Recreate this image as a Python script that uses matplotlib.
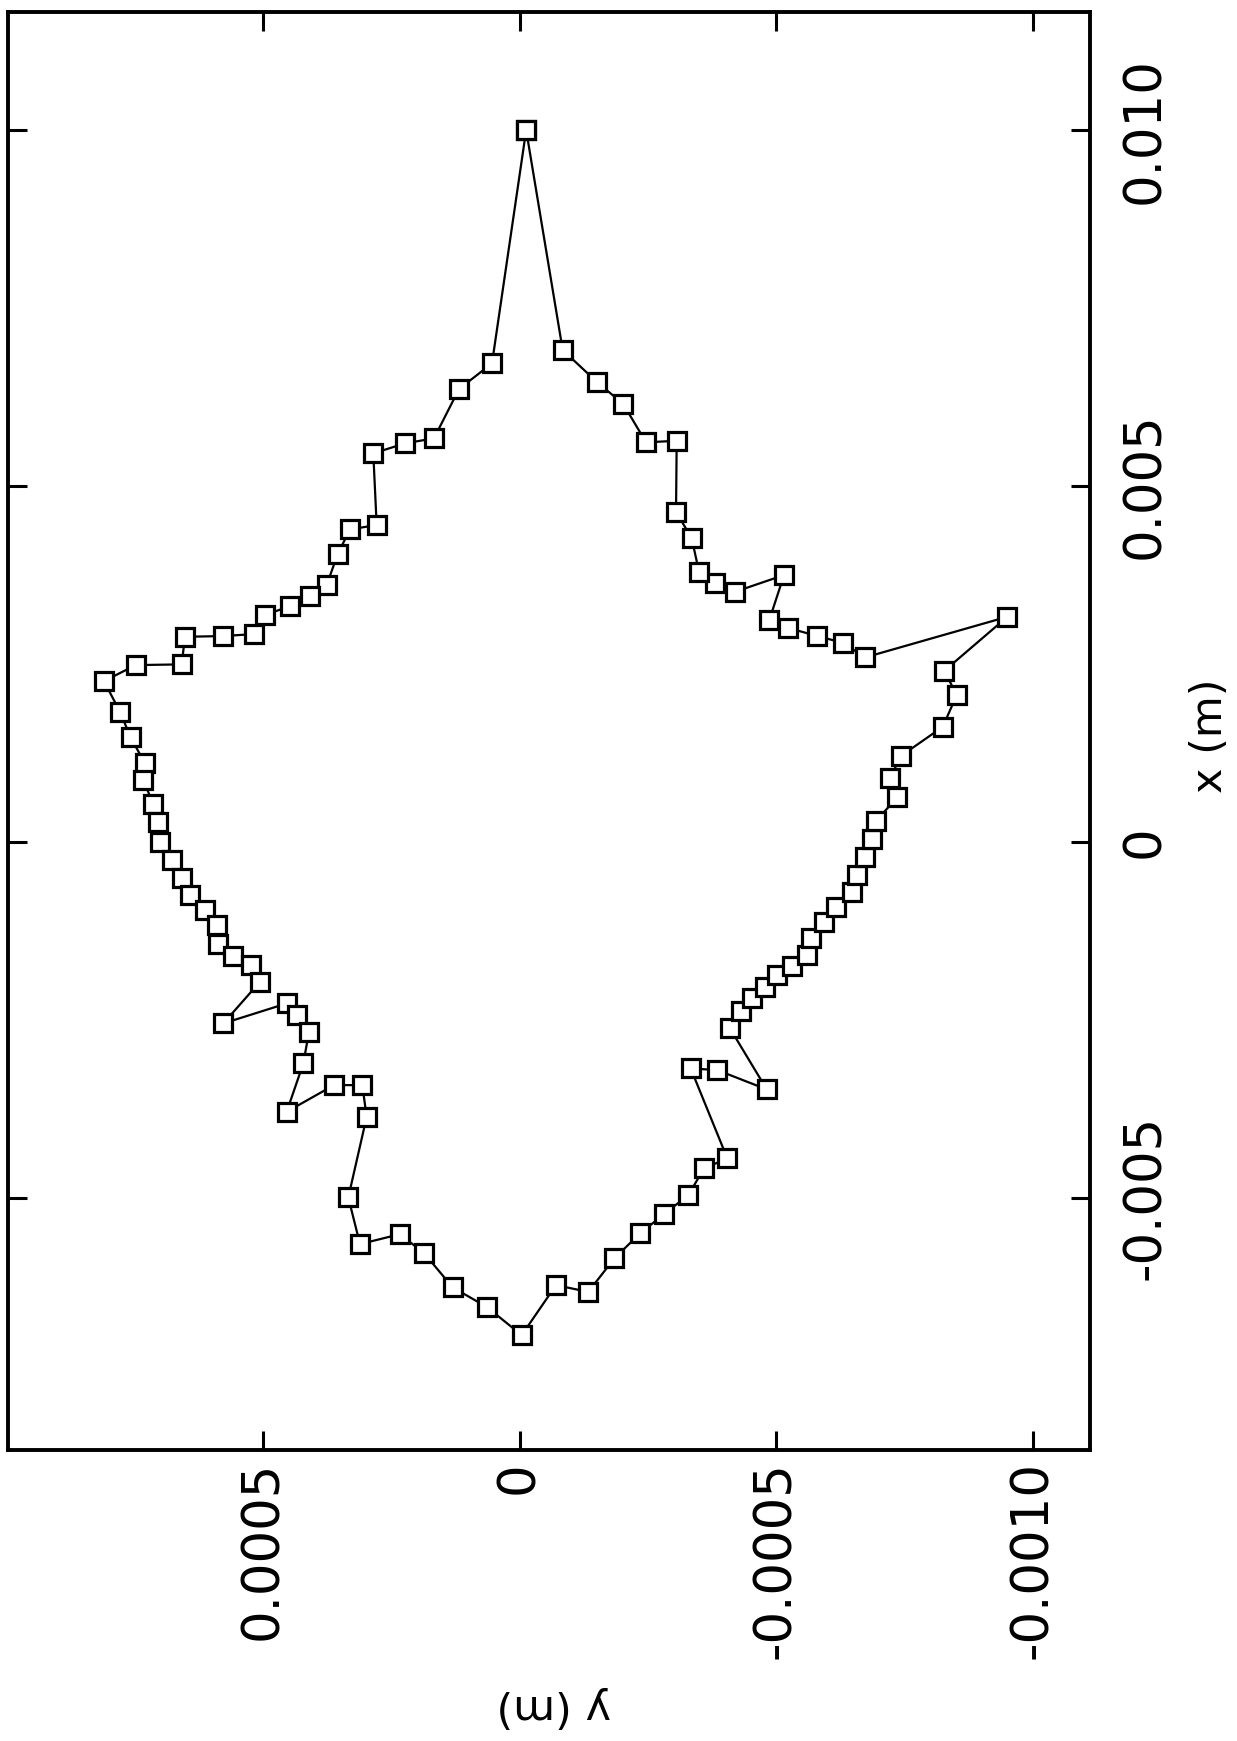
import matplotlib
matplotlib.use("Agg")
import matplotlib.pyplot as plt

plt.rcParams['font.family'] = ['DejaVu Sans']
plt.rcParams['axes.unicode_minus'] = False

# contour points (closed loop): x (m) and y (m)
x_m = [0.010000, 0.006723, 0.006362, 0.005669, 0.005599, 0.005458, 0.004451, 0.004390,
       0.004043, 0.003607, 0.003457, 0.003312, 0.003186, 0.002919, 0.002891, 0.002881,
       0.002493, 0.002483, 0.002258, 0.001827, 0.001467, 0.001102, 0.000867, 0.000530,
       0.000281, 0.000000, -0.000257, -0.000514, -0.000749, -0.000960, -0.001171, -0.001438,
       -0.001606, -0.001733, -0.001967, -0.002552, -0.002271, -0.002435, -0.002670, -0.003114,
       -0.003794, -0.003419, -0.003419, -0.003865, -0.004997, -0.005653, -0.005513, -0.005784,
       -0.006262, -0.006535, -0.006932, -0.006230, -0.006324, -0.005854, -0.005503, -0.005232,
       -0.004965, -0.004590, -0.004449, -0.003184, -0.003208, -0.003479, -0.002622, -0.002379,
       -0.002196, -0.002035, -0.001873, -0.001747, -0.001592, -0.001358, -0.001124, -0.000913,
       -0.000703, -0.000468, -0.000211, 0.000034, 0.000295, 0.000624, 0.000891, 0.001204,
       0.001616, 0.002062, 0.002403, 0.003162, 0.002591, 0.002797, 0.002891, 0.003007,
       0.003116, 0.003748, 0.003513, 0.003631, 0.003794, 0.004264, 0.004637, 0.005635,
       0.005613, 0.006151, 0.006464, 0.006910, 0.010000]

y_m = [-0.0000130, 0.0000536, 0.0001179, 0.0001667, 0.0002232, 0.0002850, 0.0002784, 0.0003304,
       0.0003544, 0.0003758, 0.0004084, 0.0004474, 0.0004961, 0.0005175, 0.0005774, 0.0006520,
       0.0006585, 0.0007481, 0.0008099, 0.0007788, 0.0007579, 0.0007300, 0.0007333, 0.0007138,
       0.0007041, 0.0007008, 0.0006780, 0.0006585, 0.0006423, 0.0006131, 0.0005903, 0.0005871,
       0.0005579, 0.0005240, 0.0005058, 0.0005774, 0.0004538, 0.0004343, 0.0004103, 0.0004214,
       0.0004538, 0.0003616, 0.0003064, 0.0002979, 0.0003337, 0.0003109, 0.0002329, 0.0001856,
       0.0001302, 0.0000639, -0.0000043, -0.0000711, -0.0001341, -0.0001848, -0.0002349, -0.0002817,
       -0.0003290, -0.0003596, -0.0004051, -0.0003337, -0.0003856, -0.0004819, -0.0004103, -0.0004318,
       -0.0004526, -0.0004785, -0.0005014, -0.0005312, -0.0005598, -0.0005676, -0.0005936, -0.0006164,
       -0.0006476, -0.0006573, -0.0006735, -0.0006865, -0.0006949, -0.0007364, -0.0007222, -0.0007431,
       -0.0008250, -0.0008522, -0.0008281, -0.0009509, -0.0006735, -0.0006300, -0.0005805, -0.0005228,
       -0.0004869, -0.0005156, -0.0004201, -0.0003811, -0.0003499, -0.0003357, -0.0003051, -0.0003064,
       -0.0002466, -0.0002023, -0.0001505, -0.0000842, -0.0000130]

x_ticks = [-0.005, 0.0, 0.005, 0.010]
x_tick_labels = ["-0.005", "0", "0.005", "0.010"]
y_ticks = [0.0005, 0.0, -0.0005, -0.0010]
y_tick_labels = ["0.0005", "0", "-0.0005", "-0.0010"]

W, H = 1237, 1741
fig = plt.figure(figsize=(W / 100, H / 100), dpi=100)
ax = fig.add_axes([8 / W, 1 - 1450 / H, 1082 / W, 1438 / H])

# The page is rotated: y (m) runs horizontally (decreasing to the right),
# x (m) runs vertically (increasing upward).
ax.plot(y_m, x_m, '-', color='black', lw=1.6, marker='s', ms=13,
        mfc='white', mec='black', mew=2.3)

ax.set_xlim(0.000997, -0.001112)
ax.set_ylim(-0.008546, 0.01166)

ax.set_xticks(y_ticks)
ax.set_xticklabels(y_tick_labels, rotation=90)
ax.set_yticks(x_ticks)
ax.set_yticklabels(x_tick_labels, rotation=90, va='center')
ax.yaxis.tick_right()
ax.tick_params(direction='in', length=14, width=2.2, top=True, bottom=True,
               left=True, right=True, labelleft=False, labelright=True,
               labelsize=37)
ax.tick_params(axis='x', pad=8)
ax.tick_params(axis='y', pad=22)
for s in ax.spines.values():
    s.set_linewidth(2.8)

ax.set_xlabel('y (m)', fontsize=31, rotation=180, ha='center', va='center')
ax.xaxis.set_label_coords(0.504, -0.179)
ax.yaxis.set_label_position('right')
ax.set_ylabel('x (m)', fontsize=31, rotation=90, ha='center', va='center',
              rotation_mode='default')
ax.yaxis.set_label_coords(1.111, 0.497)

fig.savefig('out.png', dpi=100, facecolor='white')
